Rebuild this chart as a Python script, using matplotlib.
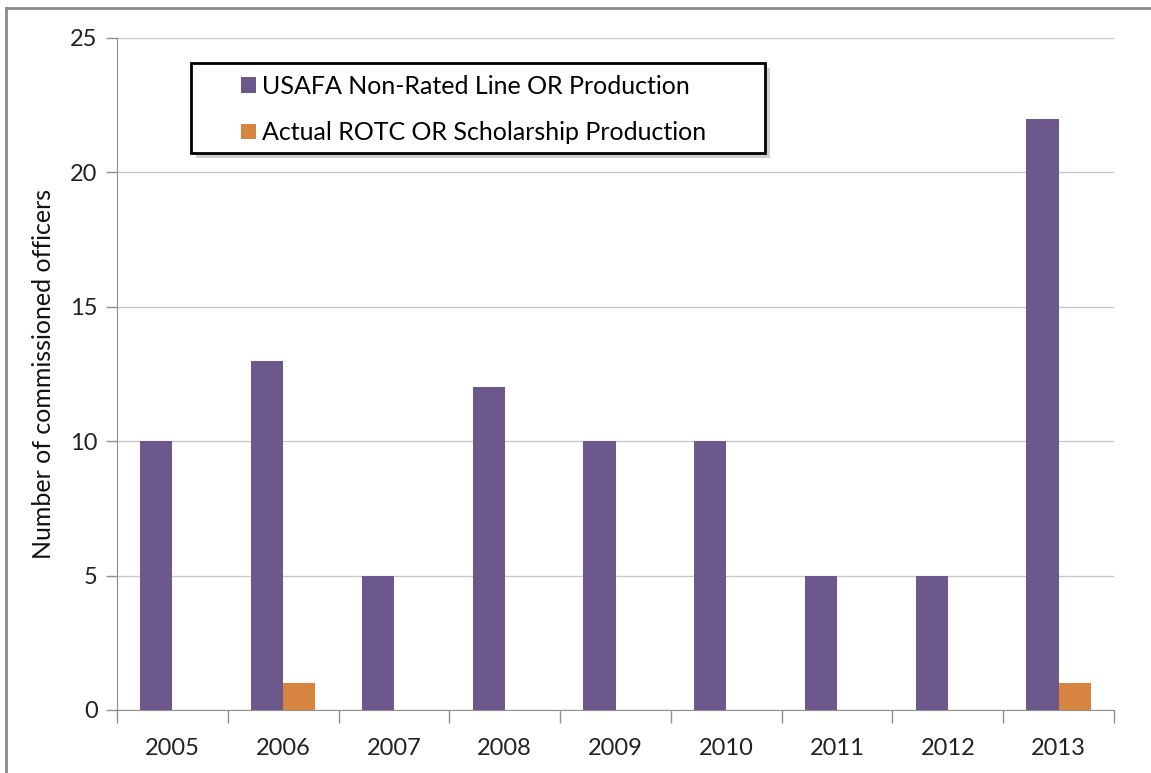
import matplotlib.pyplot as plt
import numpy as np
from matplotlib.lines import Line2D
from matplotlib.patches import FancyBboxPatch

years = ['2005', '2006', '2007', '2008', '2009', '2010', '2011', '2012', '2013']
usafa = [10, 13, 5, 12, 10, 10, 5, 5, 22]
rotc = [0, 1, 0, 0, 0, 0, 0, 0, 1]
labels = ['USAFA Non-Rated Line OR Production', 'Actual ROTC OR Scholarship Production']

plt.rcParams['font.family'] = ['Lato', 'DejaVu Sans']

fig = plt.figure(figsize=(11.51, 7.73), dpi=100)
ax = fig.add_axes([117/1151, 1-710/773, (1114-117)/1151, (710-38)/773])

x = np.arange(len(years))
w = 0.29
b1 = ax.bar(x - w/2, usafa, w, color='#6c588c', label=labels[0], zorder=3)
b2 = ax.bar(x + w/2, rotc, w, color='#d6843f', label=labels[1], zorder=3)

ax.set_xlim(-0.5, len(years) - 0.5)
ax.set_ylim(0, 25)
ax.set_yticks([0, 5, 10, 15, 20, 25])
ax.set_xticks(x)
ax.set_xticklabels(years)
ax.set_xticks(np.arange(-0.5, len(years)), minor=True)
ax.tick_params(axis='x', which='major', length=0, pad=20, labelsize=17, colors='#222222')
ax.tick_params(axis='x', which='minor', length=9, color='#909090', width=1)
ax.tick_params(axis='y', length=8, color='#909090', width=1, labelsize=17, pad=6, labelcolor='#222222')
ax.grid(axis='y', color='#c8c8c8', linewidth=1, zorder=0)
for s in ['top', 'right']:
    ax.spines[s].set_visible(False)
for s in ['left', 'bottom']:
    ax.spines[s].set_color('#909090')
ax.set_ylabel('Number of commissioned officers', fontsize=18, labelpad=11, color='#111111')

# legend with drop shadow
leg_x0, leg_y0 = 191/1151, 1-153/773
leg_w, leg_h = (765-191)/1151, (153-63)/773
shadow = FancyBboxPatch((leg_x0 + 0.004, leg_y0 - 0.007), leg_w, leg_h, boxstyle='square,pad=0',
                        transform=fig.transFigure, facecolor='#b0b0b0', edgecolor='none', alpha=0.6, zorder=5)
fig.add_artist(shadow)
box = FancyBboxPatch((leg_x0, leg_y0), leg_w, leg_h, boxstyle='square,pad=0',
                     transform=fig.transFigure, facecolor='white', edgecolor='black', linewidth=2, zorder=6)
fig.add_artist(box)
leg = fig.legend([b1, b2], labels, loc='upper left', bbox_to_anchor=(228/1151, 1-62/773),
                 frameon=False, fontsize=18, handlelength=0.6, handleheight=0.6, handletextpad=0.25,
                 labelspacing=0.95, borderpad=0)
leg.set_zorder(7)

# outer border (top and left)
fig.add_artist(Line2D([6/1151, 1], [1-8/773, 1-8/773], color='#8a8a8a', linewidth=2, transform=fig.transFigure))
fig.add_artist(Line2D([6/1151, 6/1151], [0, 1-8/773], color='#8a8a8a', linewidth=2, transform=fig.transFigure))

fig.savefig('out.png', dpi=100)
